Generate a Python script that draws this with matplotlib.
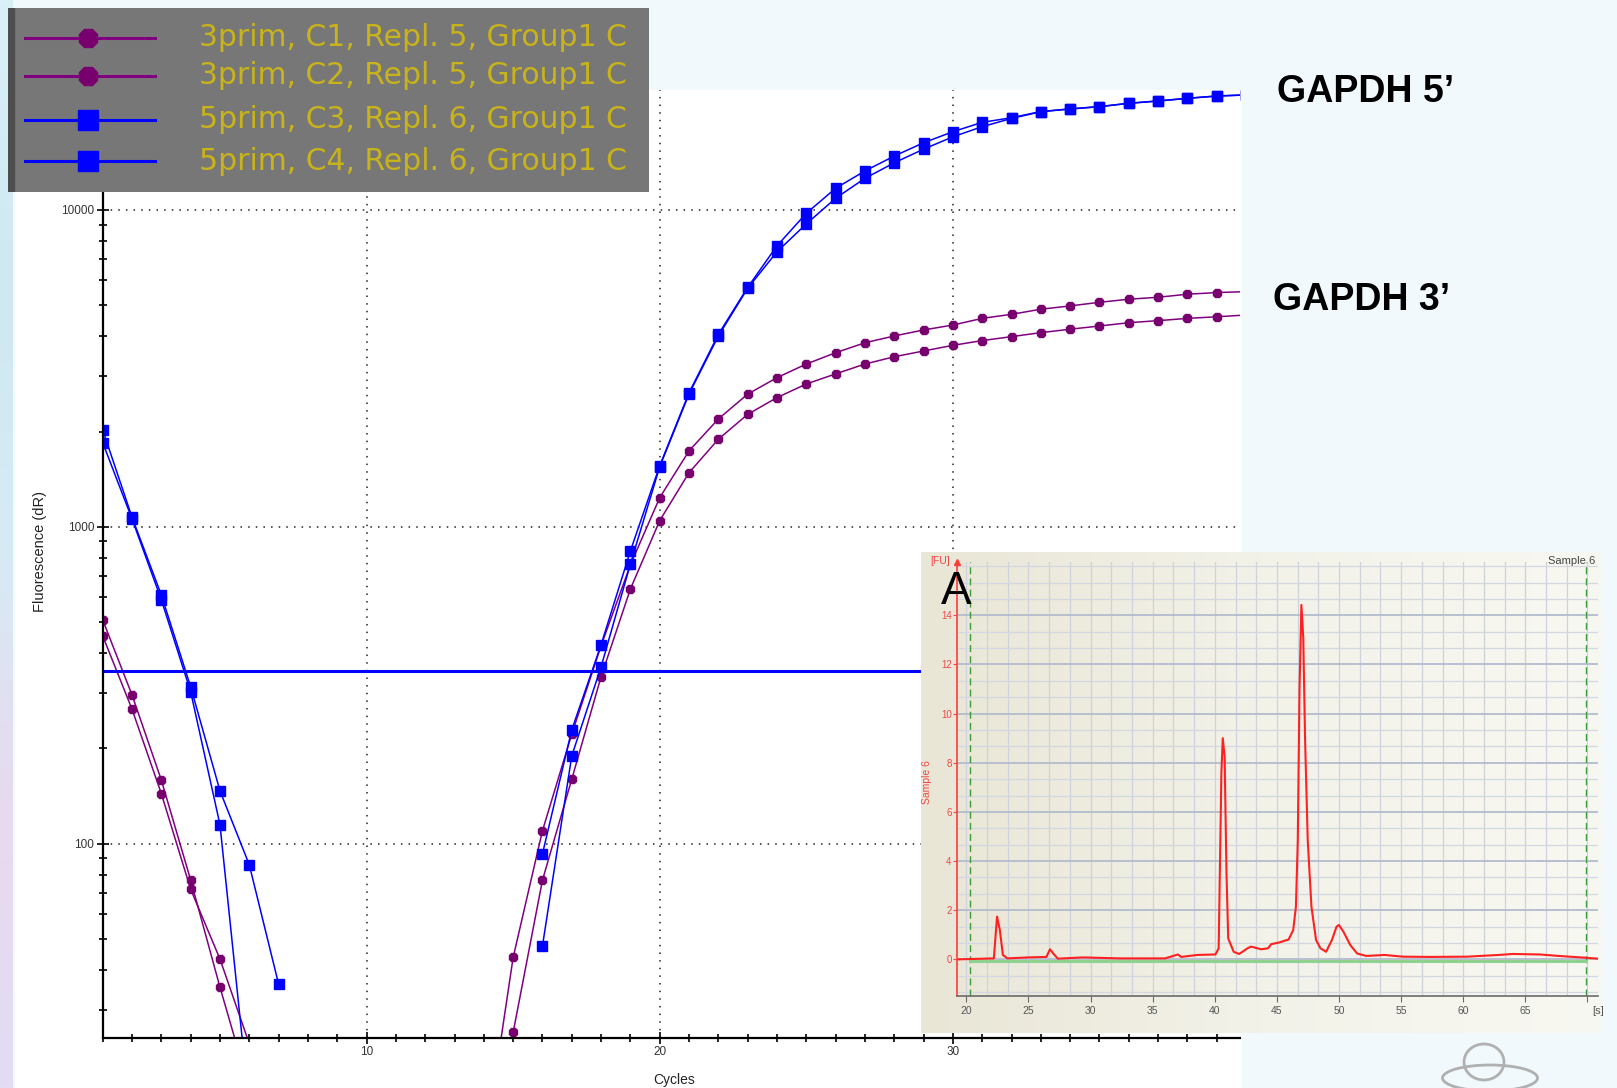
import numpy as np
import matplotlib
matplotlib.use("Agg")
import matplotlib.pyplot as plt
import matplotlib.ticker as tkr
from matplotlib.patches import Rectangle, Ellipse
from matplotlib.colors import LinearSegmentedColormap

plt.rcParams['font.family'] = ['Liberation Sans', 'DejaVu Sans']

W, H = 1617, 1088
nan = np.nan

# ---- amplification plot data (dR per cycle) ----
cycles = np.arange(1, 41)
c1_3prim = [509, 295, 159, 76.9, 35.3, 16.9] + [nan] * 7 + [
    10.5, 43.8, 110, 222, 422, 759, 1237, 1738, 2191, 2624, 2958, 3266, 3545, 3812,
    4004, 4183, 4335, 4550, 4687, 4863, 4981, 5114, 5230, 5305, 5423, 5488, 5526]
c2_3prim = [453, 266, 144, 71.9, 43.3, 23.4] + [nan] * 7 + [
    4.0, 25.4, 76.8, 160, 337, 637, 1047, 1483, 1891, 2266, 2559, 2825, 3040, 3266,
    3443, 3590, 3741, 3872, 3985, 4102, 4206, 4305, 4409, 4476, 4550, 4603, 4663]
c3_5prim = [2024, 1073, 610, 313, 147, 85.9, 36.1] + [nan] * 8 + [
    47.6, 189.5, 362, 764, 1549, 2628, 4004, 5663, 7383, 9040, 10890, 12590, 14090,
    15560, 17020, 18320, 19450, 20420, 20830, 21180, 21700, 22070, 22500, 22880, 23060]
c4_5prim = [1845, 1060, 589, 302, 115, 14.8] + [nan] * 9 + [
    93, 229, 425, 840, 1560, 2650, 4050, 5700, 7709, 9763, 11710, 13280, 14800,
    16300, 17660, 18910, 19550, 20450, 20850, 21200, 21720, 22090, 22520, 22900, 23080]
threshold = 352

legend_labels = ["3prim, C1, Repl. 5, Group1 C", "3prim, C2, Repl. 5, Group1 C",
                 "5prim, C3, Repl. 6, Group1 C", "5prim, C4, Repl. 6, Group1 C"]

# ---- electropherogram (inset) ----
ep_time = [19.26, 22.21, 22.47, 22.69, 22.94, 23.31, 24.97, 26.44, 26.73, 26.99, 27.36,
           29.38, 32.33, 36.0, 37.03, 37.29, 38.58, 40.05, 40.31, 40.53, 40.64, 40.79,
           40.94, 41.08, 41.52, 41.96, 42.63, 42.92, 43.73, 44.28, 44.54, 45.13, 45.94,
           46.31, 46.53, 46.68, 46.82, 46.97, 47.12, 47.27, 47.48, 47.78, 48.15, 48.51,
           48.96, 49.43, 49.80, 49.99, 50.35, 50.91, 51.46, 52.19, 53.66, 55.14, 57.34,
           60.29, 62.86, 63.97, 66.17, 67.65, 69.48, 70.85]
ep_fu = [0.0, 0.04, 1.74, 1.2, 0.18, 0.04, 0.08, 0.1, 0.41, 0.24, 0.03,
         0.08, 0.04, 0.04, 0.2, 0.1, 0.18, 0.2, 0.45, 7.6, 9.0, 8.25,
         3.5, 0.85, 0.31, 0.22, 0.45, 0.52, 0.41, 0.45, 0.62, 0.68, 0.81,
         1.19, 2.14, 4.86, 11.0, 14.42, 13.1, 8.9, 4.86, 2.14, 0.79, 0.45,
         0.31, 0.79, 1.33, 1.4, 1.13, 0.58, 0.24, 0.14, 0.18, 0.11, 0.1,
         0.11, 0.18, 0.22, 0.2, 0.14, 0.08, 0.03]
ep_markers = [20.26, 69.85]


def px_axes(fig, x0, y0, x1, y1):
    return fig.add_axes([x0 / W, 1 - y1 / H, (x1 - x0) / W, (y1 - y0) / H])


fig = plt.figure(figsize=(W / 100, H / 100), dpi=100, facecolor='#f1f9fc')
fig.patches.append(Rectangle((15 / W, 0), (1241 - 15) / W, 1 - 90 / H,
                             transform=fig.transFigure, color='white', zorder=-10))

# left pastel strip
strip = px_axes(fig, 0, 0, 12, 1088)
strip_cmap = LinearSegmentedColormap.from_list(
    's', ['#d9f0f6', '#cfe8f2', '#d6ebf5', '#e8d9ef', '#e2dcf4'])
strip.imshow(np.linspace(0, 1, 200)[:, None], aspect='auto', cmap=strip_cmap)
strip.axis('off')

# ---- main amplification plot ----
ax = px_axes(fig, 102.7, 89.5, 1240.2, 1038)
ax.set_facecolor('white')
purple = '#800080'
blue = '#0000ff'
for vals in (c1_3prim, c2_3prim):
    ax.plot(cycles, vals, color=purple, lw=1.1, marker='8', ms=7,
            mfc='#78006e', mec='#78006e')
for vals in (c3_5prim, c4_5prim):
    ax.plot(cycles, vals, color=blue, lw=1.1, marker='s', ms=7, mfc=blue, mec=blue)
ax.axhline(threshold, color=blue, lw=2.2)

ax.set_yscale('log')
ax.set_xlim(1, 39.8)
ax.set_ylim(24.4, 24000)
ax.set_xticks([10, 20, 30])
ax.xaxis.set_minor_locator(tkr.MultipleLocator(1))
ax.set_yticks([100, 1000, 10000])
ax.set_yticklabels(['100', '1000', '10000'])
ax.yaxis.set_minor_locator(tkr.LogLocator(base=10, subs=np.arange(2, 10)))
ax.yaxis.set_minor_formatter(tkr.NullFormatter())
ax.grid(True, which='major', linestyle=(0, (1, 4)), color='#222222', lw=1.1)
for s in ('top', 'right'):
    ax.spines[s].set_visible(False)
for s in ('left', 'bottom'):
    ax.spines[s].set_linewidth(1.6)
ax.tick_params(which='major', direction='inout', length=8, width=1.2,
               labelsize=8.5, labelcolor='#333333', pad=2)
ax.tick_params(which='minor', direction='inout', length=6, width=1.2)
fig.text(40 / W, 1 - 552 / H, 'Fluorescence (dR)', rotation=90, fontsize=10.5,
         ha='center', va='center', color='#222222')
fig.text(674 / W, 1 - 1080 / H, 'Cycles', fontsize=10, ha='center', va='center',
         color='#222222')

# ---- legend box ----
lg = px_axes(fig, 8, 8, 649, 192)
lg.set_facecolor('#777777')
lg.set_xlim(8, 649)
lg.set_ylim(192, 8)
lg.set_xticks([])
lg.set_yticks([])
for s in lg.spines.values():
    s.set_visible(False)
lg.add_patch(Rectangle((8, 8), 6, 184, color='#4e4e4e'))
rows = [38, 76, 120, 161]
styles = [(purple, '8', '#78006e'), (purple, '8', '#78006e'), (blue, 's', blue), (blue, 's', blue)]
for y, lab, (col, mk, mcol) in zip(rows, legend_labels, styles):
    lg.plot([25, 155], [y, y], color=col, lw=2.2)
    lg.plot([88], [y], marker=mk, ms=14, color=mcol)
    lg.text(199, y, lab, color='#c9b31a', fontsize=21.5, family='DejaVu Sans',
            va='center', ha='left', clip_on=True)

fig.text(1277 / W, 1 - 92 / H, 'GAPDH 5\u2019', fontsize=27, fontweight='bold',
         ha='left', va='center')
fig.text(1273 / W, 1 - 300 / H, 'GAPDH 3\u2019', fontsize=27, fontweight='bold',
         ha='left', va='center')

# ---- inset electropherogram ----
pan = px_axes(fig, 920.6, 551.7, 1600, 1033)
pan_cmap = LinearSegmentedColormap.from_list('p', ['#e9e6d6', '#f3f2e9', '#f8f8f2'])
pan.imshow(np.linspace(0, 1, 256)[None, :], aspect='auto', cmap=pan_cmap)
pan.axis('off')

ins = px_axes(fig, 957.2, 561.7, 1598, 996)
ins.set_facecolor('none')
ins.set_xlim(19.26, 70.85)
ins.set_ylim(-1.49, 16.18)
ins.xaxis.set_major_locator(tkr.MultipleLocator(5))
ins.xaxis.set_minor_locator(tkr.MultipleLocator(5 / 3))
ins.xaxis.set_major_formatter(tkr.FuncFormatter(lambda v, p: '' if v > 69 else f'{v:.0f}'))
ins.yaxis.set_major_locator(tkr.FixedLocator([0, 2, 4, 6, 8, 10, 12, 14]))
ins.yaxis.set_minor_locator(tkr.MultipleLocator(2 / 3))
ins.xaxis.grid(True, which='both', color='#cdd2dc', lw=0.9)
ins.yaxis.grid(True, which='minor', color='#d3d7e0', lw=0.9)
ins.yaxis.grid(True, which='major', color='#b3bccd', lw=1.3)
ins.set_axisbelow(True)
for v in ep_markers:
    ins.axvline(v, color='#3c9c3c', ls=(0, (5, 3)), lw=1)
ins.plot(ep_markers, [-0.05, -0.05], color='#8fd18f', lw=2.2)
ins.plot(ep_time, ep_fu, color='#ff2020', lw=1.5)
for s in ('top', 'right'):
    ins.spines[s].set_visible(False)
ins.spines['left'].set_color('#ff3c3c')
ins.spines['left'].set_linewidth(1.2)
ins.spines['bottom'].set_color('#6a6a6a')
ins.spines['bottom'].set_linewidth(1.2)
ins.plot([19.26], [16.18], marker='^', ms=4, color='#ff3c3c', clip_on=False)
ins.tick_params(axis='y', which='major', length=3, colors='#f04848', labelsize=7, pad=1)
ins.tick_params(axis='x', which='major', length=4, colors='#6a6a6a', labelsize=7.5,
                labelcolor='#555555', pad=3)
ins.tick_params(which='minor', length=0)

fig.text(940 / W, 1 - 561 / H, '[FU]', color='#f04848', fontsize=7.5, ha='center', va='center')
fig.text(927 / W, 1 - 782 / H, 'Sample 6', color='#f04848', fontsize=7.5, rotation=90,
         ha='center', va='center')
fig.text(1572 / W, 1 - 561 / H, 'Sample 6', color='#444444', fontsize=8, ha='center', va='center')
fig.text(1598 / W, 1 - 1011 / H, '[s]', color='#555555', fontsize=8, ha='center', va='center')
fig.text(956 / W, 1 - 592 / H, 'A', color='black', fontsize=33, ha='center', va='center')

# faint logo in the lower right corner
fig.patches.append(Ellipse((1490 / W, 1 - 1078 / H), 95 / W, 26 / H, transform=fig.transFigure,
                           fill=False, ec='#b0b0b0', lw=2))
fig.patches.append(Ellipse((1484 / W, 1 - 1062 / H), 40 / W, 36 / H, transform=fig.transFigure,
                           fill=False, ec='#b0b0b0', lw=2))

fig.savefig('out.png', dpi=100, facecolor=fig.get_facecolor())
